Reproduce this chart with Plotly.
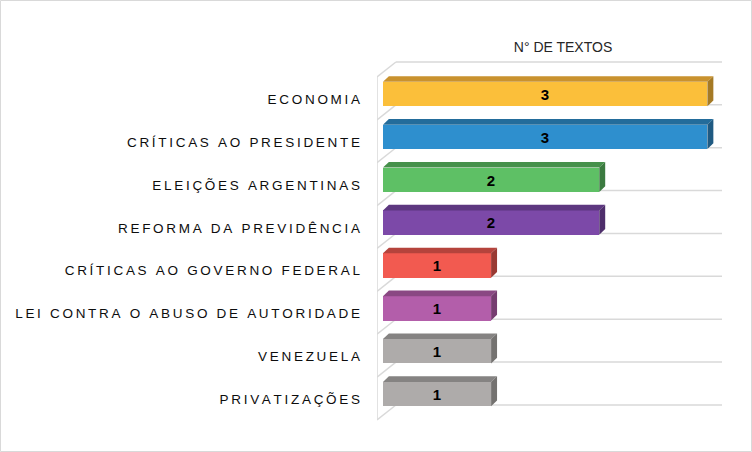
import plotly.graph_objects as go

categories = ["ECONOMIA", "CRÍTICAS AO PRESIDENTE", "ELEIÇÕES ARGENTINAS",
              "REFORMA DA PREVIDÊNCIA", "CRÍTICAS AO GOVERNO FEDERAL",
              "LEI CONTRA O ABUSO DE AUTORIDADE", "VENEZUELA", "PRIVATIZAÇÕES"]
values = [3, 3, 2, 2, 1, 1, 1, 1]
title_text = "N° DE TEXTOS"

front_colors = ["#FBBF3A", "#2E8FCE", "#5EC065", "#7C49A8",
                "#F25A50", "#B35EAA", "#AEABAA", "#AEABAA"]
top_colors = ["#C9922E", "#236C9B", "#46904B", "#5D3780",
              "#B5433C", "#8A4883", "#858382", "#858382"]
side_colors = ["#A57A25", "#1F5A82", "#3B7A40", "#4E2E6B",
               "#993A33", "#763D70", "#747270", "#747270"]

W, H = 752, 452
ML, MR, MT, MB = 377, 30, 55, 27
XR = [-0.055, 3.135]
YR = [7.72, -0.91]
BW = 0.567    # front face height (category units)
DX, DY = 0.055, 0.133   # bar depth
GRID_OFF = -0.747       # back wall gridline offset from category centre
WALL_X0, WALL_X1, WALL_DY = -0.055, 0.12, 0.35


def spaced(s):
    # mimic the wide character spacing of the original labels
    return "\u2009".join(s)


fig = go.Figure()

idx = list(range(len(categories)))

# front faces
fig.add_trace(go.Bar(
    x=values, y=idx, orientation="h", width=BW,
    marker=dict(color=front_colors, line=dict(width=0)),
    text=[str(v) for v in values], textposition="inside",
    insidetextanchor="middle", constraintext="none",
    textfont=dict(family="Liberation Sans", size=15, color="#000000"),
    texttemplate="<b>%{text}</b>", hoverinfo="skip", showlegend=False,
))

# top and side faces of the 3D bars
for i, v in enumerate(values):
    yt = i - BW / 2
    yb = i + BW / 2
    fig.add_trace(go.Scatter(
        x=[0, v, v + DX, DX, 0], y=[yt, yt, yt - DY, yt - DY, yt],
        fill="toself", fillcolor=top_colors[i], mode="lines",
        line=dict(width=0, color=top_colors[i]), hoverinfo="skip", showlegend=False))
    fig.add_trace(go.Scatter(
        x=[v, v + DX, v + DX, v, v], y=[yt, yt - DY, yb - DY, yb, yt],
        fill="toself", fillcolor=side_colors[i], mode="lines",
        line=dict(width=0, color=side_colors[i]), hoverinfo="skip", showlegend=False))

# back wall gridlines and left wall
shapes = []
grid_col = "#D9D9D9"
for k in range(len(categories) + 1):
    gy = k + GRID_OFF
    shapes.append(dict(type="line", xref="x", yref="y", layer="below",
                       x0=WALL_X1, x1=XR[1], y0=gy, y1=gy,
                       line=dict(color=grid_col, width=1.5)))
    shapes.append(dict(type="line", xref="x", yref="y", layer="below",
                       x0=WALL_X0, x1=WALL_X1, y0=gy + WALL_DY, y1=gy,
                       line=dict(color=grid_col, width=1.5)))
shapes.append(dict(type="line", xref="x", yref="y", layer="below",
                   x0=WALL_X0, x1=WALL_X0, y0=GRID_OFF + WALL_DY,
                   y1=len(categories) + GRID_OFF + WALL_DY,
                   line=dict(color=grid_col, width=1.5)))

# chart border
pw, ph = W - ML - MR, H - MT - MB
shapes.append(dict(type="rect", xref="paper", yref="paper", layer="below",
                   x0=(0.5 - ML) / pw, x1=(W - 0.5 - ML) / pw,
                   y0=-(MB - 0.5) / ph, y1=1 + (MT - 0.5) / ph,
                   line=dict(color="#D9D9D9", width=1)))

fig.update_layout(
    width=W, height=H,
    margin=dict(l=ML, r=MR, t=MT, b=MB),
    paper_bgcolor="white", plot_bgcolor="white",
    shapes=shapes,
    title=dict(text=title_text, x=563 / W, xanchor="center",
               y=1 - 47 / H, yanchor="middle",
               font=dict(family="Liberation Sans", size=14, color="#262626")),
    xaxis=dict(range=XR, visible=False, showgrid=False, zeroline=False),
    yaxis=dict(range=YR, tickmode="array", tickvals=[i + 0.12 for i in idx],
               ticktext=[spaced(c) for c in categories], showgrid=False,
               zeroline=False, showline=False, ticks="",
               ticklabelstandoff=16,
               tickfont=dict(family="Liberation Sans", size=13.5, color="#0D0D0D")),
    bargap=0,
)

fig.write_html("out.html", config={"displayModeBar": False},
               post_script="document.body.style.margin='0';")
